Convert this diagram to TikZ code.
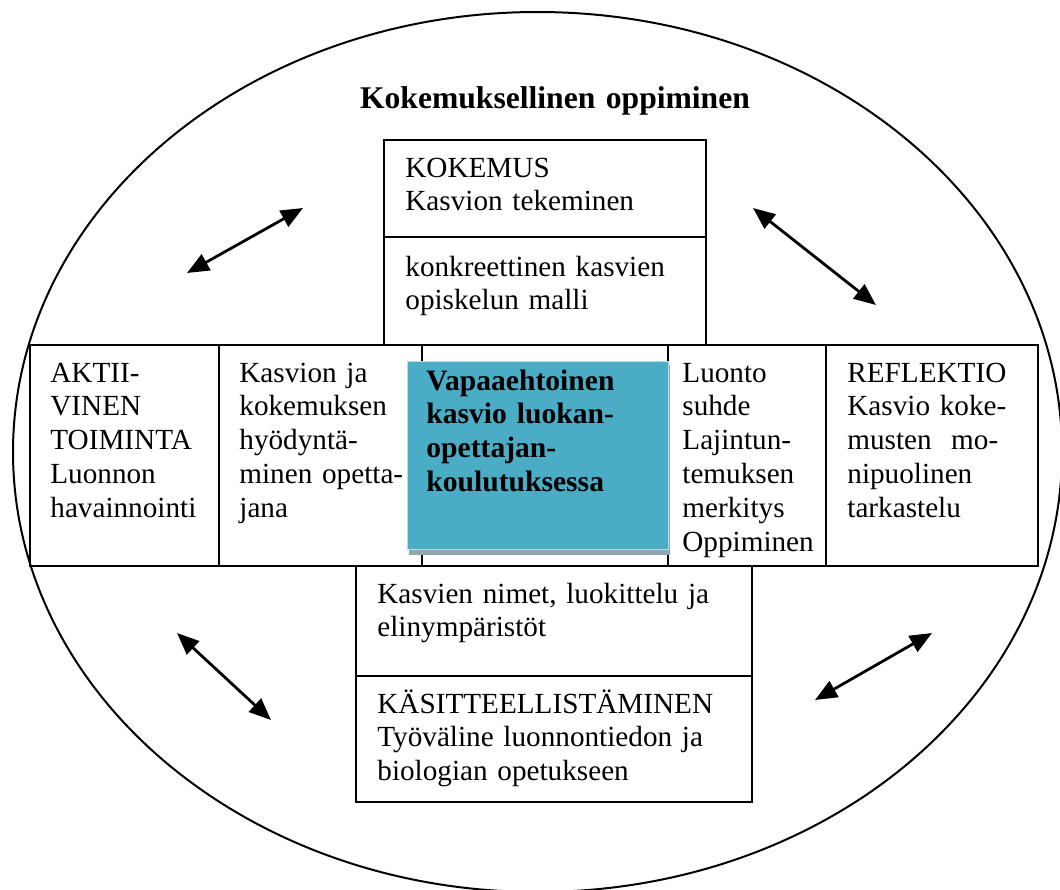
\documentclass[tikz,border=0pt]{standalone}
\usepackage{fontspec}
\setmainfont{Liberation Serif}
\usepackage{xcolor}
\usepackage{tikz}
\usetikzlibrary{arrows.meta,positioning}

\definecolor{kasvioblue}{RGB}{75,172,198}
\definecolor{kasvioshadow}{RGB}{143,166,176}

\tikzset{
  box/.style={draw=black, line width=1pt},
  txt/.style={anchor=base west, inner sep=0pt, align=left, text width=#1,
    font=\fontsize{14.6}{16.9}\selectfont},
  txt/.default=180pt,
  link/.style={{Triangle[length=11pt,width=9pt]}-{Triangle[length=11pt,width=9pt]}, line width=1.4pt}
}

\begin{document}
\begin{tikzpicture}[x=0.5pt,y=-0.5pt]

    \useasboundingbox (0,0) rectangle (1060,889);

% the ellipse

    \begin{scope}
    \clip (0,0) rectangle (1060,889);
    \draw[line width=1pt] (537.5,452) ellipse [x radius=524.5, y radius=440];
    \end{scope}

    \node[txt=250pt, anchor=base, align=center, font=\fontsize{15.8}{18}\selectfont\bfseries]
      (title) at (555,108) {Kokemuksellinen oppiminen};

% the boxes

    \draw[box] (384,140) rectangle (706,345);
    \draw[box] (384,237) -- (706,237);

    \draw[box] (30,345) rectangle (1038,566);
    \foreach \x in {219,422,668,826}{
      \draw[box] (\x,345) -- (\x,566);
    }

    \draw[box] (356,566) rectangle (752,802);
    \draw[box] (356,676) -- (752,676);

    \fill[kasvioshadow] (409,365) rectangle (670,555);
    \draw[fill=kasvioblue, draw=kasvioblue!40, line width=0.5pt] (407,361) rectangle (668,549);

% the texts

    \node[txt] (kokemus) at (405,177) {KOKEMUS\\Kasvion tekeminen};
    \node[txt] (malli) at (405,276) {konkreettinen kasvien\\opiskelun malli};

    \node[txt] (aktiivinen) at (50,382) {AKTII-\\VINEN\\TOIMINTA\\Luonnon\\havainnointi};
    \node[txt] (hyodyntaminen) at (239,382) {Kasvion ja\\kokemuksen\\hyödyntä-\\minen opetta-\\jana};
    \node[txt, font=\fontsize{14.8}{16.9}\selectfont\bfseries] (vapaaehtoinen) at (426,390)
      {Vapaaehtoinen\\kasvio luokan-\\opettajan-\\koulutuksessa};
    \node[txt] (luontosuhde) at (682,382) {Luonto\\suhde\\Lajintun-\\temuksen\\merkitys\\Oppiminen};
    \node[txt] (reflektio) at (847,382) {REFLEKTIO\\Kasvio koke-\\musten\ \ mo-\\nipuolinen\\tarkastelu};

    \node[txt] (nimet) at (377,603) {Kasvien nimet, luokittelu ja\\elinympäristöt};
    \node[txt] (kasitteellistaminen) at (377,713) {KÄSITTEELLISTÄMINEN\\Työväline luonnontiedon ja\\biologian opetukseen};

% the arrows

    \coordinate (nwa) at (187,273);
    \coordinate (nwb) at (303,208);
    \coordinate (nea) at (753,208);
    \coordinate (neb) at (876,305);
    \coordinate (swa) at (177,633);
    \coordinate (swb) at (271,720);
    \coordinate (sea) at (815,700);
    \coordinate (seb) at (932,633);

    \draw[link] (nwa) -- (nwb);
    \draw[link] (nea) -- (neb);
    \draw[link] (swa) -- (swb);
    \draw[link] (sea) -- (seb);

\end{tikzpicture}
\end{document}
